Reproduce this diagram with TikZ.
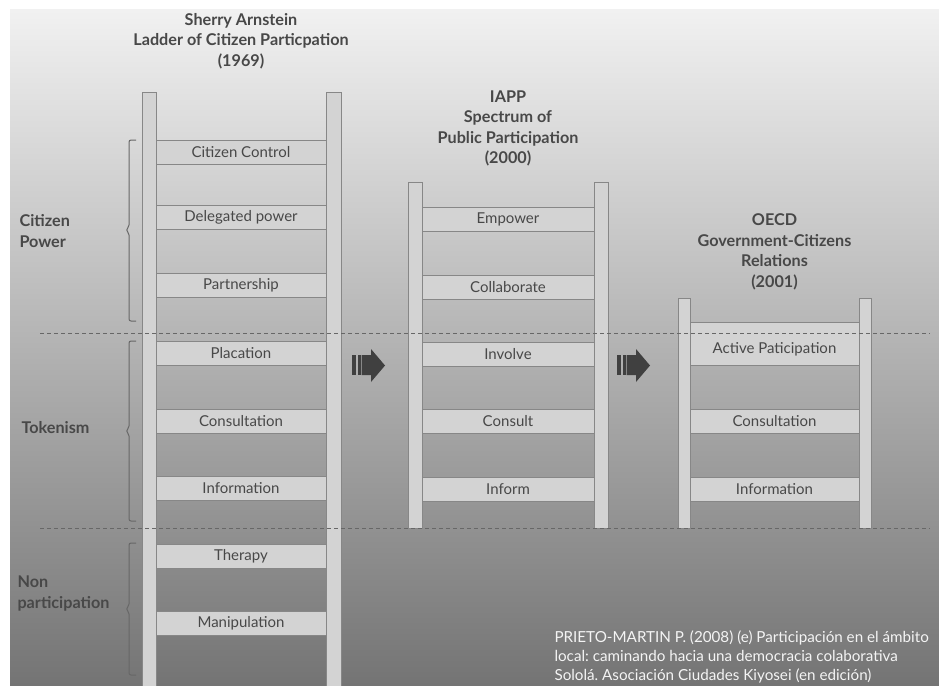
\documentclass[tikz,border=0pt]{standalone}
\usepackage{fontspec}
\setmainfont{Lato}
\usepackage{xcolor}
\definecolor{bgtop}{HTML}{F1F1F1}
\definecolor{bgbot}{HTML}{747474}
\definecolor{railfill}{HTML}{D3D3D3}
\definecolor{railline}{HTML}{878787}
\definecolor{textgray}{HTML}{484848}
\definecolor{sepgray}{HTML}{676767}
\definecolor{arrowgray}{HTML}{404040}
\definecolor{citewhite}{HTML}{F4F4F4}

\tikzset{
	rail/.style={fill=railfill, draw=railline, line width=0.8pt},
	rung/.style={rectangle, fill=railfill, draw=railline, line width=0.8pt, inner sep=0pt,
		minimum width=172pt, minimum height=24pt, text=textgray, font=\fontsize{15}{17}\selectfont},
	rungtext/.style={text=textgray, font=\fontsize{15}{17}\selectfont},
	title/.style={align=center, text=textgray, font=\bfseries\fontsize{16.2}{20.5}\selectfont},
	level/.style={align=left, anchor=west, text=textgray, font=\bfseries\fontsize{16.2}{21}\selectfont},
	sep/.style={draw=sepgray, line width=0.9pt, dash pattern=on 4pt off 3pt},
	bracket/.style={draw=sepgray, line width=1pt, rounded corners=2pt},
	stepfill/.style={fill=arrowgray},
	cite/.style={align=left, anchor=west, text=citewhite, font=\frenchspacing\fontsize{15.2}{19}\selectfont}
}

\begin{document}
\begin{tikzpicture}[x=1pt, y=-1pt]
	\useasboundingbox (0,0) rectangle (939,685);
	\shade[top color=bgtop, bottom color=bgbot] (10,10) rectangle (939,685);

	\node[title] (arnstein) at (241,41) {Sherry Arnstein\\Ladder of Citizen Particpation\\(1969)};
	\node[title] (iapp) at (508,128.5) {IAPP\\Spectrum of\\Public Participation\\(2000)};
	\node[title] (oecd) at (774.5,252) {OECD\\Government-Citizens\\Relations\\(2001)};

	\node[rung] (control) at (241,152) {Citizen Control};
	\node[rung] (delegated) at (241,217) {Delegated power};
	\node[rung] (partnership) at (241,285) {Partnership};
	\node[rung] (placation) at (241,353) {Placation};
	\node[rung] (consultA) at (241,421) {Consultation};
	\node[rung] (infoA) at (241,488) {Information};
	\node[rung] (therapy) at (241,556) {Therapy};
	\node[rung] (manipulation) at (241,623) {Manipulation};
	\filldraw[rail] (142,92) rectangle (156,686);
	\filldraw[rail] (326.5,92) rectangle (341,686);

	\node[rung] (empower) at (508,219) {Empower};
	\node[rung] (collaborate) at (508,287) {Collaborate};
	\node[rung] (involve) at (508,354) {Involve};
	\node[rung] (consult) at (508,421) {Consult};
	\node[rung] (inform) at (508,489) {Inform};
	\filldraw[rail] (408,182) rectangle (422,528);
	\filldraw[rail] (594,182) rectangle (608,528);

	\node[rung, minimum height=43pt] (active) at (774.5,343.5) {};
	\node[rungtext] (activetext) at ([yshift=-5.5pt]active.center) {Active Paticipation};
	\node[rung] (consultC) at (774.5,421) {Consultation};
	\node[rung] (infoC) at (774.5,489) {Information};
	\filldraw[rail] (678,298) rectangle (690,528);
	\filldraw[rail] (859,298) rectangle (871,528);

	\draw[sep] (40,333) -- (930,333);
	\draw[sep] (40,528) -- (930,528);

	\draw[bracket] (136,140) -- (129,140) -- (129,227) -- (126,230) -- (129,233) -- (129,321) -- (136,321);
	\draw[bracket] (136,341) -- (129,341) -- (129,428) -- (126,431) -- (129,434) -- (129,521) -- (136,521);
	\draw[bracket] (136,543) -- (129,543) -- (129,606) -- (126,609) -- (129,612) -- (129,675) -- (136,675);

	\node[level] (power) at (16,231) {Citizen\\Power};
	\node[level] (tokenism) at (18,428) {Tokenism};
	\node[level] (nonpart) at (14,593.5) {Non\\participation};

	\fill[stepfill] (352,355) rectangle (356,375);
	\fill[stepfill] (357.5,355) rectangle (360.5,375);
	\fill[stepfill] (361.5,355) -- (371,355) -- (371,349) -- (385,365.5) -- (371,382) -- (371,375) -- (361.5,375) -- cycle;
	\begin{scope}[shift={(265,0)}]
		\fill[stepfill] (352,355) rectangle (356,375);
		\fill[stepfill] (357.5,355) rectangle (360.5,375);
		\fill[stepfill] (361.5,355) -- (371,355) -- (371,349) -- (385,365.5) -- (371,382) -- (371,375) -- (361.5,375) -- cycle;
	\end{scope}

	\node[cite] (source) at (551,657) {PRIETO-MARTIN P. (2008) (e) Participación en el ámbito\\local: caminando hacia una democracia colaborativa\\Sololá. Asociación Ciudades Kiyosei (en edición)};
\end{tikzpicture}
\end{document}
